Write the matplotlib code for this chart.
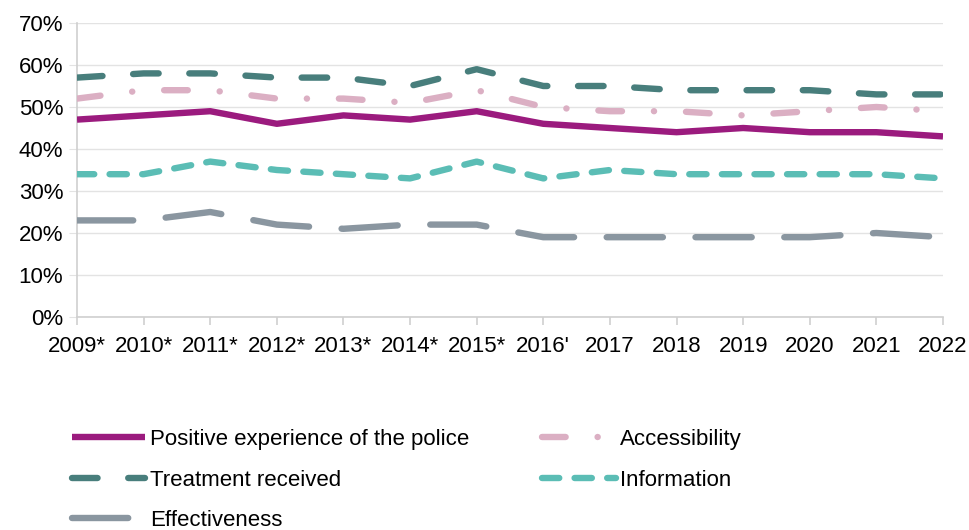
import matplotlib.pyplot as plt
from matplotlib.ticker import PercentFormatter

plt.rcParams['font.family'] = ['Liberation Sans', 'DejaVu Sans']

# Police contact satisfaction, share of respondents by year
years = ["2009*", "2010*", "2011*", "2012*", "2013*", "2014*", "2015*", "2016'",
         "2017", "2018", "2019", "2020", "2021", "2022"]

positive = [47, 48, 49, 46, 48, 47, 49, 46, 45, 44, 45, 44, 44, 43]
treatment = [57, 58, 58, 57, 57, 55, 59, 55, 55, 54, 54, 54, 53, 53]
accessibility = [52, 54, 54, 52, 52, 51, 54, 50, 49, 49, 48, 49, 50, 49]
information = [34, 34, 37, 35, 34, 33, 37, 33, 35, 34, 34, 34, 34, 33]
effectiveness = [23, 23, 25, 22, 21, 22, 22, 19, 19, 19, 19, 19, 20, 19]

fig = plt.figure(figsize=(9.69, 5.30), dpi=100)
ax = fig.add_axes([77 / 969, 1 - 317 / 530, 866 / 969, 294 / 530])

x = list(range(len(years)))
lw = 4.6

ax.plot(x, positive, color='#9B1B7E', lw=lw, solid_capstyle='butt',
        solid_joinstyle='round', label='Positive experience of the police', zorder=5)
ax.plot(x, treatment, color='#487E7C', lw=lw, dashes=(4, 4.8),
        dash_capstyle='round', label='Treatment received', zorder=4)
ax.plot(x, accessibility, color='#DBAFC3', lw=lw, dashes=(3.7, 5, 0.02, 5),
        dash_capstyle='round', label='Accessibility', zorder=3)
ax.plot(x, information, color='#5BBDB5', lw=lw, dashes=(2.7, 2.4),
        dash_capstyle='round', label='Information', zorder=3)
ax.plot(x, effectiveness, color='#8A96A0', lw=lw, dashes=(8.8, 5.1),
        dash_capstyle='round', label='Effectiveness', zorder=3)

ax.set_xlim(0, len(years) - 1)
ax.set_ylim(0, 70)
ax.set_yticks(range(0, 71, 10))
ax.yaxis.set_major_formatter(PercentFormatter(decimals=0))
ax.set_xticks(x)
ax.set_xticklabels(years)

ax.grid(axis='y', color='#E3E3E3', lw=1)
ax.set_axisbelow(True)
for side in ['top', 'right']:
    ax.spines[side].set_visible(False)
for side in ['left', 'bottom']:
    ax.spines[side].set_color('#CFCFCF')
    ax.spines[side].set_linewidth(1.2)
ax.tick_params(axis='y', length=6, color='#E3E3E3', labelsize=16, pad=4)
ax.tick_params(axis='x', length=6, color='#CFCFCF', width=1.2, labelsize=16, pad=8)

# legend is filled column by column
h, l = ax.get_legend_handles_labels()
order = [0, 1, 4, 2, 3]
fig.legend([h[i] for i in order], [l[i] for i in order], ncol=2, frameon=False,
           loc='upper left', bbox_to_anchor=(52 / 969, 1 - 409 / 530),
           fontsize=16, handlelength=3.3, handletextpad=0.2,
           columnspacing=3.3, labelspacing=0.88)

fig.savefig('out.png', dpi=100)
